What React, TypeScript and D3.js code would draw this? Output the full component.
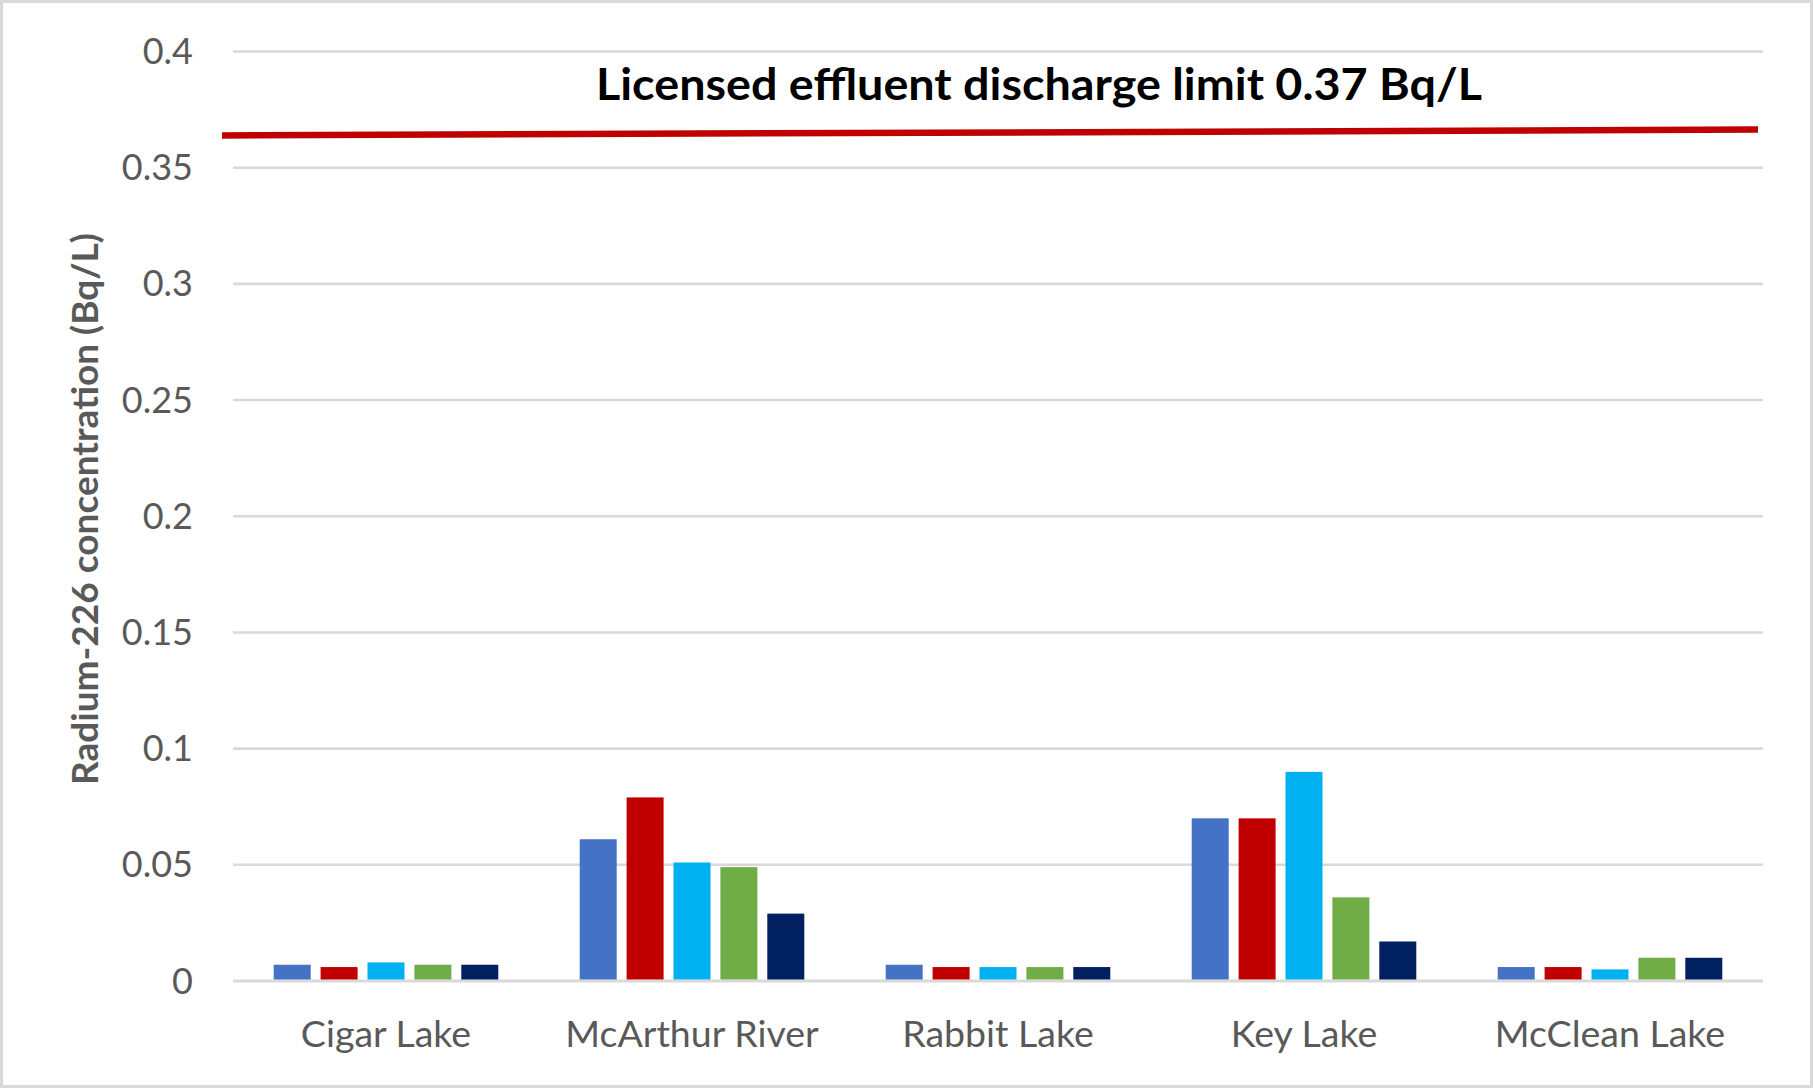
import React from "react";
import * as d3 from "d3";

const categories = ["Cigar Lake", "McArthur River", "Rabbit Lake", "Key Lake", "McClean Lake"];
const seriesKeys = ["s1", "s2", "s3", "s4", "s5"];
const seriesColors = ["#4472C4", "#C00000", "#00B0F0", "#70AD47", "#002060"];
const s1 = [0.007, 0.061, 0.007, 0.07, 0.006];
const s2 = [0.006, 0.079, 0.006, 0.07, 0.006];
const s3 = [0.008, 0.051, 0.006, 0.09, 0.005];
const s4 = [0.007, 0.049, 0.006, 0.036, 0.01];
const s5 = [0.007, 0.029, 0.006, 0.017, 0.01];
const seriesValues = [s1, s2, s3, s4, s5];
const yTicks = [0, 0.05, 0.1, 0.15, 0.2, 0.25, 0.3, 0.35, 0.4];
const limitLine = [0.3639, 0.3664];
const limitLabel = "Licensed effluent discharge limit 0.37 Bq/L";
const yTitle = "Radium-226 concentration (Bq/L)";

const W = 1814;
const H = 1089;
const plotLeft = 233;
const plotRight = 1763;
const plotTop = 51.5;
const plotBottom = 981;
const FONT = "Lato, 'Open Sans', sans-serif";

export default function App() {
  const x0 = d3.scaleBand<string>().domain(categories).range([plotLeft, plotRight]).padding(0);
  const x1 = d3
    .scaleBand<string>()
    .domain(seriesKeys)
    .range([0, x0.bandwidth()])
    .paddingInner(0.211)
    .paddingOuter(0.868);
  const y = d3.scaleLinear().domain([0, 0.4]).range([plotBottom, plotTop]);
  const lineX = d3.scaleLinear().domain([0, 1]).range([plotLeft - 11, plotRight - 5]);
  const limitPath = d3
    .line<number>()
    .x((_, i) => lineX(i / (limitLine.length - 1)))
    .y((d) => y(d))(limitLine);

  return (
    <svg
      width={W}
      height={H}
      viewBox={`0 0 ${W} ${H}`}
      style={{ position: "absolute", left: 0, top: 0, display: "block", background: "#fff" }}
    >
      <rect x={1.5} y={1.5} width={W - 4} height={H - 4} fill="#fff" stroke="#d9d9d9" strokeWidth={3} />
      {yTicks.map((t) => (
        <g key={t}>
          <line
            x1={plotLeft}
            x2={plotRight}
            y1={y(t)}
            y2={y(t)}
            stroke="#d9d9d9"
            strokeWidth={t === 0 ? 3 : 2.6}
          />
          <text
            x={193}
            y={y(t) + 12.5}
            textAnchor="end"
            fontFamily={FONT}
            fontSize={36}
            fill="#595959"
          >
            {String(+t.toFixed(2))}
          </text>
        </g>
      ))}
      {categories.map((c, ci) => (
        <g key={c} transform={`translate(${x0(c)},0)`}>
          {seriesKeys.map((k, si) => {
            const v = seriesValues[si][ci];
            return (
              <rect
                key={k}
                x={x1(k)}
                y={y(v)}
                width={x1.bandwidth()}
                height={plotBottom - 1.5 - y(v)}
                fill={seriesColors[si]}
              />
            );
          })}
          <text
            x={x0.bandwidth() / 2}
            y={1046.5}
            textAnchor="middle"
            fontFamily={FONT}
            fontSize={37.5}
            fill="#595959"
          >
            {c}
          </text>
        </g>
      ))}
      <path d={limitPath || ""} stroke="#C00000" strokeWidth={6.5} fill="none" />
      <text
        x={1039}
        y={100}
        textAnchor="middle"
        fontFamily={FONT}
        fontWeight="bold"
        fontSize={43}
        fill="#000"
        textLength={886}
        lengthAdjust="spacingAndGlyphs"
      >
        {limitLabel}
      </text>
      <text
        transform={`translate(98,${(233 + 785) / 2}) rotate(-90)`}
        textAnchor="middle"
        fontFamily={FONT}
        fontWeight="bold"
        fontSize={37}
        fill="#595959"
        textLength={552}
        lengthAdjust="spacingAndGlyphs"
      >
        {yTitle}
      </text>
    </svg>
  );
}
